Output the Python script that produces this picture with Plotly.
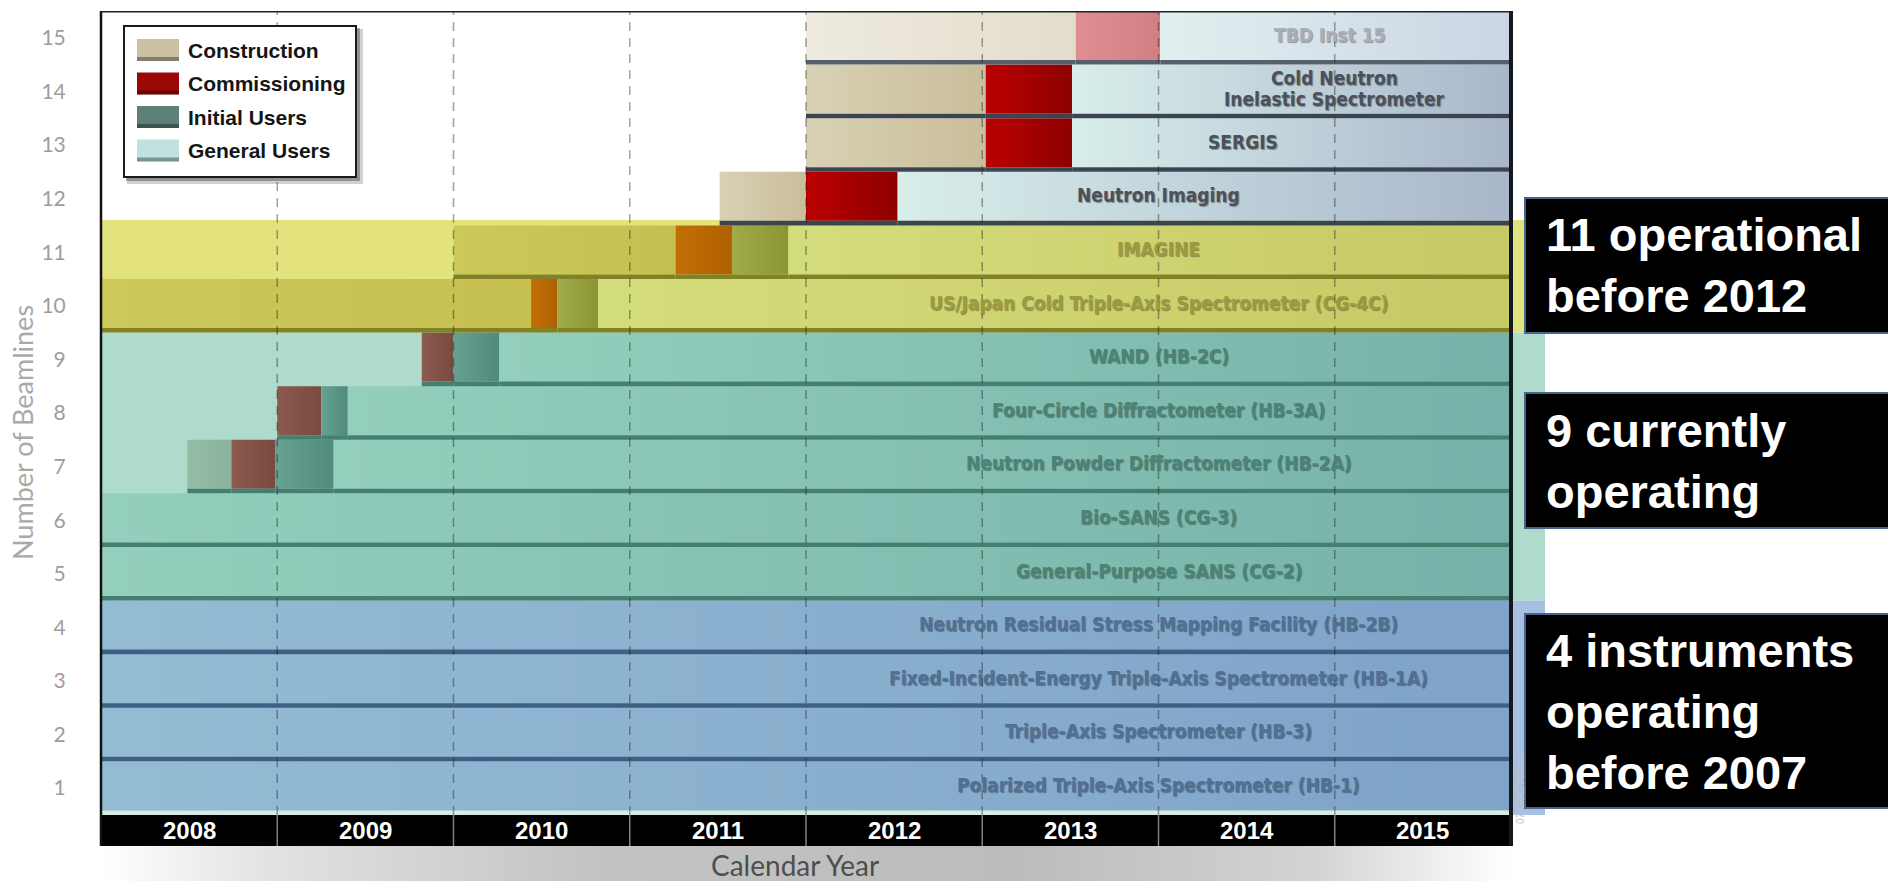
import base64
import plotly.graph_objects as go

# ------------------------------------------------------------------
# Timeline data (years as decimal calendar years)
# ------------------------------------------------------------------
years = [2008, 2009, 2010, 2011, 2012, 2013, 2014, 2015]
timeline_end = 2016.0
row_numbers = list(range(1, 16))

instrument_names = [
    "Polarized Triple-Axis Spectrometer (HB-1)",
    "Triple-Axis Spectrometer (HB-3)",
    "Fixed-Incident-Energy Triple-Axis Spectrometer (HB-1A)",
    "Neutron Residual Stress Mapping Facility (HB-2B)",
    "General-Purpose SANS (CG-2)",
    "Bio-SANS (CG-3)",
    "Neutron Powder Diffractometer (HB-2A)",
    "Four-Circle Diffractometer (HB-3A)",
    "WAND (HB-2C)",
    "US/Japan Cold Triple-Axis Spectrometer (CG-4C)",
    "IMAGINE",
    "Neutron Imaging",
    "SERGIS",
    "Cold Neutron<br>Inelastic Spectrometer",
    "TBD Inst 15",
]

# Start of each phase per beamline (None = phase not shown)
construction_start = [None, None, None, None, None, None,
                      2008.49, None, None, 2008.0, 2010.0, 2011.51, 2012.0, 2012.0, 2012.0]
commissioning_start = [None, None, None, None, None, None,
                       2008.74, 2009.0, 2009.82, 2010.44, 2011.26, 2012.0, 2013.02, 2013.02, 2013.53]
initial_users_start = [None, None, None, None, None, None,
                       2008.99, 2009.25, 2010.0, 2010.59, 2011.58, None, None, None, None]
general_users_start = [2008.0, 2008.0, 2008.0, 2008.0, 2008.0, 2008.0,
                       2009.32, 2009.40, 2010.26, 2010.82, 2011.90, 2012.52, 2013.51, 2013.51, 2014.01]

# Which highlight band each beamline belongs to
row_group = ["hfir"] * 4 + ["cg"] * 5 + ["new"] * 2 + ["future"] * 3 + ["tbd"]

phases = ["Construction", "Commissioning", "Initial Users", "General Users"]

group_notes = {
    "new": "11 operational<br>before 2012",
    "cg": "9 currently<br>operating",
    "hfir": "4 instruments<br>operating<br>before 2007",
}

# ------------------------------------------------------------------
# Styling
# ------------------------------------------------------------------
palette = {
    "hfir": {"empty": "#a7c0e1", "edge": "#3e6183", "text": "#4f7196",
             "General Users": ("#94bcd4", "#7fa3c9")},
    "cg": {"empty": "#aedbcc", "edge": "#447f70", "text": "#4b8477",
           "Construction": ("#93bea4", "#89b39b"),
           "Commissioning": ("#8c5a4e", "#7a4a40"),
           "Initial Users": ("#66a191", "#4f8a7b"),
           "General Users": ("#93cfbc", "#77b2aa")},
    "new": {"empty": "#e3e37e", "edge": "#818127", "text": "#9a9b42",
            "Construction": ("#cdc85a", "#c5c050"),
            "Commissioning": ("#c26f06", "#b06000"),
            "Initial Users": ("#a1ab4a", "#8a9632"),
            "General Users": ("#d4dd7b", "#c6c964")},
    "future": {"edge": "#3b4551", "text": "#4b515c",
               "Construction": ("#d9d1b5", "#c9be9a"),
               "Commissioning": ("#bb0000", "#8e0000"),
               "General Users": ("#d8eeea", "#a9b6cb")},
    "tbd": {"edge": "#56606c", "text": "#a9afb9",
            "Construction": ("#eeeadf", "#e3ddcc"),
            "Commissioning": ("#de8f93", "#d27e84"),
            "General Users": ("#e1efef", "#cbd5e4")},
}
legend_colors = {"Construction": "#c9c1a2", "Commissioning": "#9c0808",
                 "Initial Users": "#5f8078", "General Users": "#c0e1dd"}
group_extent_px = {"new": 1525, "cg": 1545, "hfir": 1545}
label_x_default = 2014.0
label_x_override = {13: 2014.48, 14: 2015.0, 15: 2014.97}

W, H = 1888, 881
M_L, M_R, M_T, M_B = 101, 377, 11, 35
PLOT_W = W - M_L - M_R
PLOT_H = H - M_T - M_B
Y_MIN, Y_MAX = -0.08, 15.5
EDGE = 0.085

LABEL_FONT = "Liberation Sans Narrow, Arial Narrow, DejaVu Sans Condensed, Liberation Sans, sans-serif"
GOTHIC_FONT = "Lato, Noto Sans, sans-serif"
ARIAL = "Liberation Sans, Arial, sans-serif"


def px_x(px):
    return (px - M_L) / PLOT_W


def px_y(py):
    return (H - M_B - py) / PLOT_H


fig = go.Figure()


def add_block(row, x0, x1, colors, edge_color):
    c0, c1 = colors
    fig.add_trace(go.Scatter(
        x=[x0, x1, x1, x0, x0],
        y=[row - 0.5 + EDGE, row - 0.5 + EDGE, row + 0.5, row + 0.5, row - 0.5 + EDGE],
        mode="lines", line=dict(width=0), fill="toself",
        fillgradient=dict(type="horizontal", colorscale=[[0, c0], [1, c1]]),
        hoverinfo="skip", showlegend=False))
    fig.add_trace(go.Scatter(
        x=[x0, x1, x1, x0, x0],
        y=[row - 0.5, row - 0.5, row - 0.5 + EDGE, row - 0.5 + EDGE, row - 0.5],
        mode="lines", line=dict(width=0), fill="toself", fillcolor=edge_color,
        hoverinfo="skip", showlegend=False))


# Highlight bands behind each instrument group
for grp, ext in group_extent_px.items():
    grp_rows = [r for r, g in zip(row_numbers, row_group) if g == grp]
    top = max(grp_rows) + 0.5 + (0.1 if grp == "new" else 0.0)
    fig.add_shape(type="rect", xref="paper", yref="y", layer="below",
                  x0=0, x1=px_x(ext), y0=min(grp_rows) - 0.5, y1=top,
                  fillcolor=palette[grp]["empty"], line=dict(width=0))

# Phase blocks
phase_starts = [construction_start, commissioning_start, initial_users_start, general_users_start]
for i, row in enumerate(row_numbers):
    grp = palette[row_group[i]]
    seq = [(p, s[i]) for p, s in zip(phases, phase_starts) if s[i] is not None]
    for k, (phase, start) in enumerate(seq):
        end = seq[k + 1][1] if k + 1 < len(seq) else timeline_end
        add_block(row, start, end, grp[phase], grp["edge"])

# Instrument labels
for i, row in enumerate(row_numbers):
    grp = palette[row_group[i]]
    lines = instrument_names[i].split("<br>")
    n = len(lines)
    for j, line in enumerate(lines):
        dy = 0.06 + (0.39 * ((n - 1) / 2 - j) if n > 1 else 0)
        fig.add_annotation(
            x=label_x_override.get(row, label_x_default), y=row + dy,
            xref="x", yref="y", xanchor="center", yanchor="middle",
            text="<b>" + line + "</b>", showarrow=False,
            font=dict(family=LABEL_FONT, size=19, color=grp["text"],
                      shadow="1px 1px 1px rgba(0,0,0,0.35)"))

# Light strip above the calendar band
fig.add_shape(type="rect", xref="x", yref="y", layer="above",
              x0=years[0], x1=timeline_end, y0=0.5, y1=0.5 + EDGE,
              fillcolor="#d6ebe3", line=dict(width=0))

# Dashed year dividers across the timeline
for yr in years[1:]:
    fig.add_shape(type="line", xref="x", yref="y", layer="above",
                  x0=yr, x1=yr, y0=0.5, y1=Y_MAX,
                  line=dict(color="rgba(30,30,30,0.42)", width=1.5, dash="9px,7px"))

# Calendar band with year labels
fig.add_shape(type="rect", xref="x", yref="y", layer="above",
              x0=years[0], x1=timeline_end, y0=Y_MIN, y1=0.5,
              fillcolor="#000000", line=dict(width=0))
for yr in years[1:]:
    fig.add_shape(type="line", xref="x", yref="y", layer="above",
                  x0=yr, x1=yr, y0=Y_MIN, y1=0.5,
                  line=dict(color="#808080", width=1.5))
for yr in years:
    fig.add_annotation(x=yr + 0.5, y=(Y_MIN + 0.5) / 2, xref="x", yref="y",
                       xanchor="center", yanchor="middle",
                       text="<b>%d</b>" % yr, showarrow=False,
                       font=dict(family=ARIAL, size=24, color="#ffffff"))

# Plot frame
fig.add_shape(type="line", xref="paper", yref="y", layer="above",
              x0=0, x1=0, y0=Y_MIN, y1=Y_MAX, line=dict(color="#111111", width=2.5))
fig.add_shape(type="line", xref="paper", yref="y", layer="above",
              x0=0, x1=1, y0=Y_MAX, y1=Y_MAX, line=dict(color="#222222", width=3))
fig.add_shape(type="line", xref="paper", yref="y", layer="above",
              x0=1, x1=1, y0=Y_MIN, y1=Y_MAX, line=dict(color="#15181f", width=4))

# Legend panel
lg_x0, lg_x1, lg_y0, lg_y1 = 124, 356, 26, 177
fig.add_shape(type="rect", xref="paper", yref="paper", layer="above",
              x0=px_x(lg_x0 + 3), x1=px_x(lg_x1 + 7), y0=px_y(lg_y1 + 7), y1=px_y(lg_y0 + 3),
              fillcolor="rgba(0,0,0,0.18)", line=dict(width=0))
fig.add_shape(type="rect", xref="paper", yref="paper", layer="above",
              x0=px_x(lg_x0 + 2), x1=px_x(lg_x1 + 4), y0=px_y(lg_y1 + 4), y1=px_y(lg_y0 + 2),
              fillcolor="rgba(0,0,0,0.3)", line=dict(width=0))
fig.add_shape(type="rect", xref="paper", yref="paper", layer="above",
              x0=px_x(lg_x0), x1=px_x(lg_x1), y0=px_y(lg_y1), y1=px_y(lg_y0),
              fillcolor="#ffffff", line=dict(color="#1a1a1a", width=2))
for k, phase in enumerate(phases):
    cy = 50 + 33.5 * k
    fig.add_shape(type="rect", xref="paper", yref="paper", layer="above",
                  x0=px_x(137), x1=px_x(179), y0=px_y(cy + 11), y1=px_y(cy - 11),
                  fillcolor=legend_colors[phase], line=dict(width=0))
    fig.add_shape(type="rect", xref="paper", yref="paper", layer="above",
                  x0=px_x(137), x1=px_x(179), y0=px_y(cy + 11), y1=px_y(cy + 7),
                  fillcolor="rgba(0,0,0,0.35)", line=dict(width=0))
    fig.add_annotation(x=px_x(186), y=px_y(cy), xref="paper", yref="paper",
                       xanchor="left", yanchor="middle", showarrow=False,
                       text="<b>" + phase + "</b>",
                       font=dict(family=ARIAL, size=21, color="#151515"))

# Group summary boxes on the right
note_boxes = {"new": (198, 333), "cg": (393, 528), "hfir": (614, 808)}
for grp, (top_px, bot_px) in note_boxes.items():
    fig.add_shape(type="rect", xref="paper", yref="paper", layer="above",
                  x0=px_x(1525), x1=px_x(1900), y0=px_y(bot_px), y1=px_y(top_px),
                  fillcolor="#000000", line=dict(color="#46648c", width=2))
    fig.add_annotation(x=px_x(1544), y=px_y((top_px + bot_px) / 2), xref="paper", yref="paper",
                       xanchor="left", yanchor="middle", align="left", showarrow=False,
                       text="<b>" + group_notes[grp] + "</b>",
                       font=dict(family=ARIAL, size=47, color="#ffffff"))

# Axis titles
fig.add_annotation(x=px_x(22), y=px_y(433), xref="paper", yref="paper", textangle=-90,
                   xanchor="center", yanchor="middle",
                   text="Number of Beamlines", showarrow=False,
                   font=dict(family=GOTHIC_FONT, size=27, color="#a9a9a9"))
fig.add_annotation(x=px_x(795), y=px_y(865), xref="paper", yref="paper",
                   xanchor="center", yanchor="middle",
                   text="Calendar Year", showarrow=False,
                   font=dict(family=GOTHIC_FONT, size=28, color="#4e4e4e"))
fig.add_annotation(x=px_x(1520), y=px_y(790), xref="paper", yref="paper", textangle=-90,
                   xanchor="center", yanchor="middle",
                   text="07-G01174/arm", showarrow=False,
                   font=dict(family=ARIAL, size=10, color="#c4c4c4"))

# Soft shadow under the calendar band
shadow_svg = (
    '<svg xmlns="http://www.w3.org/2000/svg" width="200" height="20" viewBox="0 0 200 20" '
    'preserveAspectRatio="none"><defs><linearGradient id="g" x1="0" x2="1" y1="0" y2="0">'
    '<stop offset="0" stop-color="#ffffff"/><stop offset="0.12" stop-color="#e2e2e2"/>'
    '<stop offset="0.35" stop-color="#c3c3c3"/><stop offset="0.65" stop-color="#bcbcbc"/>'
    '<stop offset="0.86" stop-color="#d3d3d3"/><stop offset="1" stop-color="#ffffff"/>'
    '</linearGradient></defs><rect width="200" height="20" fill="url(#g)"/></svg>')
fig.add_layout_image(
    source="data:image/svg+xml;base64," + base64.b64encode(shadow_svg.encode()).decode(),
    xref="paper", yref="paper", x=0, y=0, sizex=1, sizey=M_B / PLOT_H,
    xanchor="left", yanchor="top", sizing="stretch", layer="below")

fig.update_layout(
    width=W, height=H,
    margin=dict(l=M_L, r=M_R, t=M_T, b=M_B),
    paper_bgcolor="#ffffff", plot_bgcolor="rgba(0,0,0,0)",
    showlegend=False,
    xaxis=dict(range=[years[0], timeline_end], showticklabels=False, showgrid=False,
               zeroline=False, showline=False, ticks="", fixedrange=True),
    yaxis=dict(range=[Y_MIN, Y_MAX], tickvals=row_numbers, ticktext=[str(r) for r in row_numbers],
               tickfont=dict(family=GOTHIC_FONT, size=21, color="#9d9d9d"),
               ticks="outside", ticklen=30, tickcolor="rgba(0,0,0,0)",
               showgrid=False, zeroline=False, showline=False, fixedrange=True),
)

fig.write_html("out.html")
